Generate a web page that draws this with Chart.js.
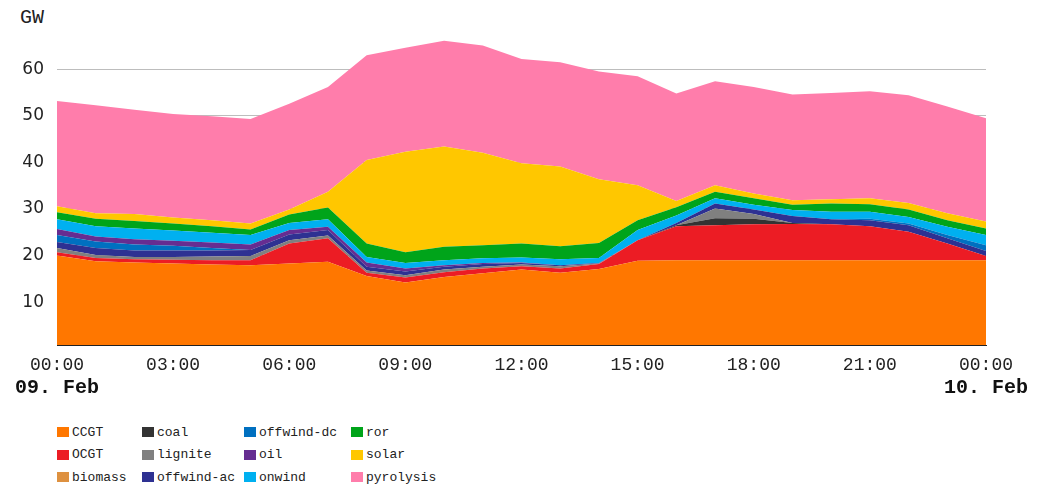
<!DOCTYPE html>
<html>
<head>
<meta charset="utf-8">
<script src="https://cdn.jsdelivr.net/npm/chart.js@4.4.1/dist/chart.umd.min.js"></script>
<style>
  body { margin: 0; background: #fff; width: 1044px; height: 488px; position: relative; overflow: hidden; }
  #wrap { position: absolute; left: 0; top: 0; width: 1044px; height: 410px; }
  #unit { position: absolute; left: 20px; top: 8px; font: 20px/20px "Liberation Mono", monospace; color: #222; }
  #legend { position: absolute; left: 57px; top: 421px; display: grid; grid-auto-flow: column;
            grid-template-rows: repeat(3, 22.5px); grid-template-columns: 85px 102px 107px 120px;
            font: 13px "Liberation Mono", monospace; color: #222; }
  #legend div { display: flex; align-items: center; white-space: nowrap; }
  #legend span.box { width: 12px; height: 10px; margin-right: 3px; display: inline-block; }
</style>
</head>
<body>
<div id="unit">GW</div>
<div id="wrap"><canvas id="chart"></canvas></div>
<div id="legend"></div>
<script>
// heures de la journée (09. Feb 00:00 -> 10. Feb 00:00)
const hours = [0, 1, 2, 3, 4, 5, 6, 7, 8, 9, 10, 11, 12, 13, 14, 15, 16, 17, 18, 19, 20, 21, 22, 23, 24];
const xTickHours = [0, 3, 6, 9, 12, 15, 18, 21, 24];
const dateTicks = [0, 24];
const dateLabels = ['09. Feb', '10. Feb'];
const yTicks = [10, 20, 30, 40, 50, 60];

// production par filière (GW)
const ccgt      = [20.0, 18.8, 18.5, 18.3, 18.1, 17.9, 18.3, 18.7, 15.6, 14.2, 15.4, 16.2, 17.0, 16.3, 17.1, 18.9, 19.0, 19.0, 19.0, 19.0, 19.0, 19.0, 19.0, 19.0, 19.0];
const ocgt      = [0.7, 0.7, 0.7, 0.8, 0.9, 1.1, 4.3, 5.0, 0.7, 1.1, 1.0, 1.0, 0.7, 0.9, 1.1, 4.4, 7.3, 7.5, 7.7, 7.8, 7.7, 7.3, 6.1, 3.6, 0.9];
const biomass   = [0, 0, 0, 0, 0, 0, 0, 0, 0, 0, 0, 0, 0, 0, 0, 0, 0, 0, 0, 0, 0, 0, 0, 0, 0];
const coal      = [0, 0, 0, 0, 0, 0, 0, 0, 0, 0, 0, 0, 0, 0, 0, 0, 0.2, 1.5, 1.2, 0.2, 0, 0, 0, 0, 0];
const lignite   = [0.9, 0.6, 0.5, 0.6, 0.8, 0.9, 0.7, 0.6, 0.5, 0.5, 0.6, 0.4, 0.4, 0.5, 0.1, 0, 0, 2.1, 1.0, 0, 0, 0, 0, 0, 0];
const offwindAc = [1.3, 1.5, 1.4, 1.4, 1.3, 1.3, 1.2, 1.2, 0.8, 0.8, 0.6, 0.6, 0.3, 0.2, 0.1, 0, 0.5, 1.1, 1.0, 1.5, 1.1, 1.3, 1.4, 1.1, 1.1];
const offwindDc = [1.5, 1.4, 1.3, 1.0, 0.5, 0, 0, 0, 0, 0, 0, 0, 0, 0, 0, 0, 0, 0, 0, 0, 0, 0.3, 0.4, 0.7, 1.2];
const oil       = [1.3, 1.1, 1.1, 1.1, 1.2, 1.2, 1.0, 0.7, 0.9, 0.6, 0.3, 0.2, 0.1, 0, 0, 0, 0, 0, 0, 0, 0, 0, 0, 0, 0];
const onwind    = [2.1, 2.2, 2.3, 2.2, 2.1, 2.0, 1.5, 1.6, 1.2, 1.2, 1.1, 1.0, 1.1, 1.3, 1.1, 2.2, 1.6, 1.1, 1.0, 1.3, 1.6, 1.5, 1.4, 1.8, 2.2];
const ror       = [1.5, 1.6, 1.6, 1.5, 1.4, 1.2, 1.8, 2.5, 2.9, 2.3, 2.9, 2.8, 3.0, 2.8, 3.2, 2.1, 1.8, 1.4, 1.4, 1.1, 1.8, 1.6, 1.6, 1.4, 1.4];
const solar     = [1.3, 1.2, 1.5, 1.3, 1.3, 1.3, 1.1, 3.4, 17.9, 21.6, 21.5, 19.9, 17.2, 17.1, 13.7, 7.5, 1.3, 1.4, 1.0, 1.0, 0.9, 1.3, 1.4, 1.5, 1.5];
const pyrolysis = [22.6, 23.2, 22.4, 22.2, 22.3, 22.4, 22.7, 22.5, 22.5, 22.3, 22.7, 23.0, 22.4, 22.4, 23.1, 23.4, 23.1, 22.3, 22.9, 22.7, 22.8, 23.0, 23.1, 22.9, 22.2];

const carriers = ['CCGT', 'OCGT', 'biomass', 'coal', 'lignite', 'offwind-ac', 'offwind-dc', 'oil', 'onwind', 'ror', 'solar', 'pyrolysis'];
const series = [ccgt, ocgt, biomass, coal, lignite, offwindAc, offwindDc, oil, onwind, ror, solar, pyrolysis];
const colors = ['#ff7700', '#ec1c24', '#de9140', '#333333', '#808080', '#2e3192', '#0070c0', '#662d91', '#00b0f0', '#00a41a', '#ffc700', '#ff7dab'];

const pad2 = n => String(n % 24).padStart(2, '0') + ':00';

const datasets = carriers.map((name, i) => ({
    label: name,
    data: series[i].map((v, k) => ({ x: hours[k], y: v })),
    backgroundColor: colors[i],
    borderColor: colors[i],
    borderWidth: 0,
    pointRadius: 0,
    tension: 0,
    fill: i === 0 ? 'origin' : '-1',
}));

const ctx = document.getElementById('chart').getContext('2d');
const chart = new Chart(ctx, {
    type: 'line',
    data: { datasets: datasets },
    options: {
        responsive: true,
        maintainAspectRatio: false,
        animation: false,
        layout: { padding: { top: 32, left: 0, right: 58, bottom: 0 } },
        plugins: { legend: { display: false }, tooltip: { enabled: false } },
        scales: {
            x: {
                type: 'linear',
                min: 0,
                max: 24,
                z: 1,
                afterBuildTicks: axis => { axis.ticks = xTickHours.map(v => ({ value: v })); },
                afterFit: axis => { axis.height = 30; },
                ticks: {
                    callback: v => pad2(v),
                    maxRotation: 0,
                    padding: 9,
                    color: '#222',
                    font: { family: 'Liberation Mono', size: 18 },
                },
                grid: { display: false, drawTicks: false },
                border: { display: true, color: '#222', width: 1 },
            },
            x2: {
                type: 'linear',
                position: 'bottom',
                min: 0,
                max: 24,
                afterBuildTicks: axis => { axis.ticks = dateTicks.map(v => ({ value: v })); },
                afterFit: axis => { axis.height = 35; },
                ticks: {
                    callback: (v, i) => dateLabels[i],
                    maxRotation: 0,
                    padding: 1,
                    color: '#111',
                    font: { family: 'Liberation Mono', size: 20, weight: 'bold' },
                },
                grid: { display: false, drawTicks: false },
                border: { display: false },
            },
            y: {
                stacked: true,
                min: 0.8,
                max: 68,
                z: 1,
                afterBuildTicks: axis => { axis.ticks = yTicks.map(v => ({ value: v })); },
                afterFit: axis => { axis.width = 57; },
                ticks: {
                    padding: 13,
                    color: '#222',
                    font: { family: 'DejaVu Sans', size: 17 },
                },
                grid: { color: '#bdbdbd', lineWidth: 1, drawTicks: false },
                border: { display: false },
            },
        },
    },
});

// légende en colonnes (HTML)
const legend = document.getElementById('legend');
chart.data.datasets.forEach(ds => {
    const item = document.createElement('div');
    item.innerHTML = `<span class="box" style="background:${ds.backgroundColor}"></span>${ds.label}`;
    legend.appendChild(item);
});
</script>
</body>
</html>
